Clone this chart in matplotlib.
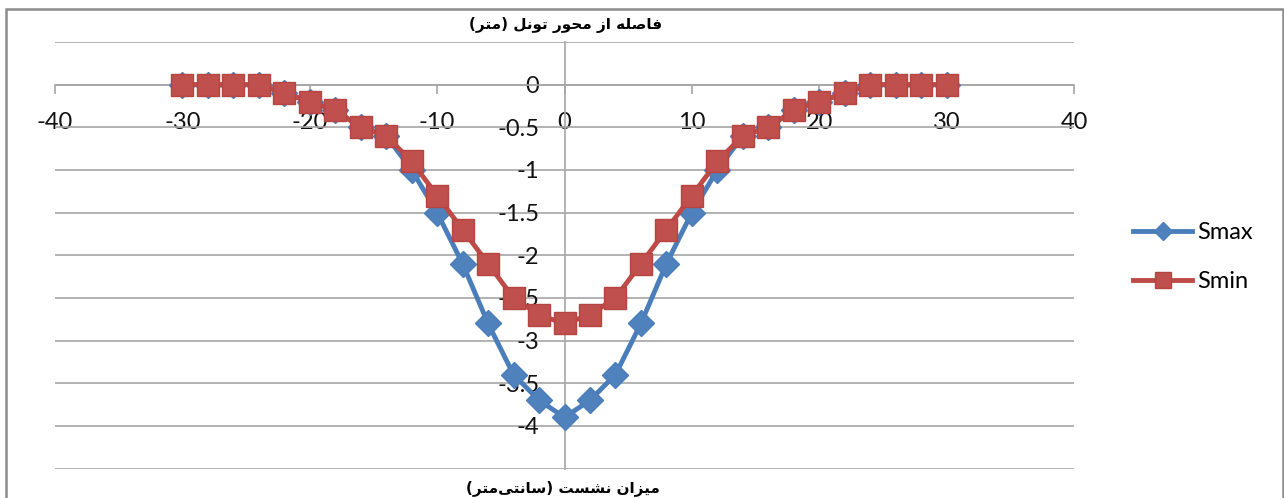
#!/usr/bin/env python3
"""Settlement profile (Smax / Smin) across the tunnel axis."""

import matplotlib
matplotlib.use('Agg')
import matplotlib.pyplot as plt
from matplotlib.patches import Rectangle

# distance from tunnel axis (m)
distance = [-30, -28, -26, -24, -22, -20, -18, -16, -14, -12, -10, -8, -6, -4, -2, 0,
            2, 4, 6, 8, 10, 12, 14, 16, 18, 20, 22, 24, 26, 28, 30]
# settlement (cm)
smax = [0, 0, 0, 0, -0.1, -0.2, -0.3, -0.5, -0.6, -1.0, -1.5, -2.1, -2.8, -3.4, -3.7, -3.9,
        -3.7, -3.4, -2.8, -2.1, -1.5, -1.0, -0.6, -0.5, -0.3, -0.2, -0.1, 0, 0, 0, 0]
smin = [0, 0, 0, 0, -0.1, -0.2, -0.3, -0.5, -0.6, -0.9, -1.3, -1.7, -2.1, -2.5, -2.7, -2.8,
        -2.7, -2.5, -2.1, -1.7, -1.3, -0.9, -0.6, -0.5, -0.3, -0.2, -0.1, 0, 0, 0, 0]

x_ticks = [-40, -30, -20, -10, 0, 10, 20, 30, 40]
x_tick_labels = ['-40', '-30', '-20', '-10', '0', '10', '20', '30', '40']
y_ticks = [0.5, 0, -0.5, -1, -1.5, -2, -2.5, -3, -3.5, -4, -4.5]
y_tick_labels = ['', '0', '-0.5', '-1', '-1.5', '-2', '-2.5', '-3', '-3.5', '-4', '']

top_title = 'فاصله از محور تونل (متر)'
bottom_title = 'میزان نشست (سانتی\u200cمتر)'

# isolated, final, initial, medial (None = does not join to the next letter)
FORMS = {
    'ا': ('\uFE8D', '\uFE8E', None, None),
    'ز': ('\uFEAF', '\uFEB0', None, None),
    'و': ('\uFEED', '\uFEEE', None, None),
    'ر': ('\uFEAD', '\uFEAE', None, None),
    'ف': ('\uFED1', '\uFED2', '\uFED3', '\uFED4'),
    'ص': ('\uFEB9', '\uFEBA', '\uFEBB', '\uFEBC'),
    'ل': ('\uFEDD', '\uFEDE', '\uFEDF', '\uFEE0'),
    'ه': ('\uFEE9', '\uFEEA', '\uFEEB', '\uFEEC'),
    'م': ('\uFEE1', '\uFEE2', '\uFEE3', '\uFEE4'),
    'ح': ('\uFEA1', '\uFEA2', '\uFEA3', '\uFEA4'),
    'ت': ('\uFE95', '\uFE96', '\uFE97', '\uFE98'),
    'ن': ('\uFEE5', '\uFEE6', '\uFEE7', '\uFEE8'),
    'ش': ('\uFEB5', '\uFEB6', '\uFEB7', '\uFEB8'),
    'س': ('\uFEB1', '\uFEB2', '\uFEB3', '\uFEB4'),
    'ی': ('\uFBFC', '\uFBFD', '\uFBFE', '\uFBFF'),
}


def shape_rtl(text: str) -> str:
    """Very small Persian shaper: pick joining forms, then lay out right-to-left."""
    out = []
    for i, c in enumerate(text):
        if c not in FORMS:
            out.append(c)
            continue
        prev = text[i - 1] if i > 0 else ''
        nxt = text[i + 1] if i + 1 < len(text) else ''
        join_prev = prev in FORMS and FORMS[prev][2] is not None
        join_next = FORMS[c][2] is not None and nxt in FORMS
        iso, fin, ini, med = FORMS[c]
        if join_prev and join_next:
            out.append(med)
        elif join_prev:
            out.append(fin)
        elif join_next:
            out.append(ini)
        else:
            out.append(iso)
    s = ''.join(out).replace('\u200c', '')[::-1]
    return s.translate(str.maketrans('()', ')('))


plt.rcParams['font.family'] = ['Lato', 'DejaVu Sans']
plt.rcParams['axes.unicode_minus'] = False

W, H = 1284, 498
fig = plt.figure(figsize=(W / 100, H / 100), dpi=100)
ax = fig.add_axes([55 / W, (H - 468.5) / H, (1074 - 55) / W, (468.5 - 42) / H])

grid_color = '#a6a6a6'
ax.set_xlim(-40, 40)
ax.set_ylim(-4.5, 0.5)

ax.plot(distance, smax, color='#4A7EBB', lw=3.5, marker='D', markersize=13,
        markerfacecolor='#4F81BD', markeredgecolor='#4A7EBB', markeredgewidth=1,
        label='Smax', zorder=3)
ax.plot(distance, smin, color='#BE4B48', lw=3.5, marker='s', markersize=16.5,
        markerfacecolor='#C0504D', markeredgecolor='#B64542', markeredgewidth=1,
        label='Smin', zorder=4)

for side in ('top', 'right'):
    ax.spines[side].set_visible(False)
ax.spines['left'].set_position(('data', 0))
ax.spines['bottom'].set_position(('data', 0))
for side in ('left', 'bottom'):
    ax.spines[side].set_color(grid_color)
    ax.spines[side].set_linewidth(1.2)

ax.set_xticks(x_ticks)
ax.set_xticklabels(x_tick_labels)
ax.set_yticks(y_ticks)
ax.set_yticklabels(y_tick_labels)
ax.tick_params(axis='x', direction='out', length=6.5, width=1.2, color=grid_color,
               pad=13, labelsize=17, labelcolor='#111111')
ax.tick_params(axis='y', length=0, pad=18, labelsize=17, labelcolor='#111111')
ax.yaxis.grid(True, color=grid_color, lw=1.2)
ax.set_axisbelow(True)

fig.text(565.5 / W, 1 - 25 / H, shape_rtl(top_title), ha='center', va='center',
         fontsize=11, fontweight='bold', family='DejaVu Sans')
fig.text(563 / W, 1 - 488 / H, shape_rtl(bottom_title), ha='center', va='center',
         fontsize=11, fontweight='bold', family='DejaVu Sans')

fig.legend(loc='center left', bbox_to_anchor=(1124 / W, 1 - 257 / H), frameon=False,
           fontsize=17, handlelength=2.5, handletextpad=0.2, labelspacing=1.2,
           markerscale=0.7, borderaxespad=0)

fig.add_artist(Rectangle((6 / W, -0.1), (1283 - 6) / W, 1.1 - 9 / H, transform=fig.transFigure,
                         fill=False, edgecolor='#8c8c8c', lw=1.8, clip_on=False))

fig.savefig('out.png', dpi=100)
